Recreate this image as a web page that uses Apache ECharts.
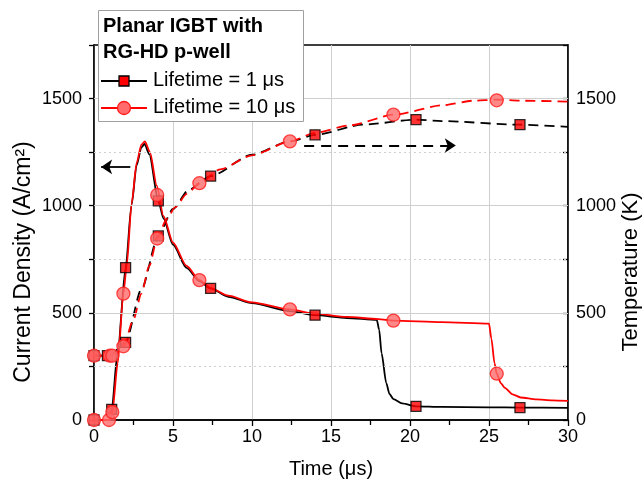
<!DOCTYPE html>
<html><head><meta charset="utf-8">
<script src="https://cdn.jsdelivr.net/npm/echarts@6/dist/echarts.min.js"></script>
<style>html,body{margin:0;padding:0;background:#fff}#c{width:643px;height:484px}</style>
</head><body><div id="c"></div>
<script>
// ---- data ----
const xTickStep = 5;
const yMajorGrid = [500, 1000, 1500];
const yMinorGrid = [250, 750, 1250];
const legendTitle = ['Planar IGBT with', 'RG-HD p-well'];
const seriesNames = ['Lifetime = 1 \u03bcs', 'Lifetime = 10 \u03bcs'];
const xTitle = 'Time (\u03bcs)';
const yLeftTitle = 'Current Density (A/cm\u00b2)';
const yRightTitle = 'Temperature (K)';

// current density (A/cm2), lifetime = 1 us  (black solid)
const cur1Line = [[0,0],[1.0,0],[1.12,50],[1.5,320],[2.0,711],[2.38,1005],[2.7,1190],[3.0,1272],[3.2,1288],[3.5,1240],[4.07,1023],[4.4,940],[5.0,818],[5.86,710],[6.67,648],[7.38,614],[8.5,575],[10,545],[12.4,508],[14,489],[16,476],[17.9,467],[18.05,420],[18.2,312],[18.5,172],[18.7,122],[18.95,97],[19.5,78],[20.38,64],[22,61],[25,59],[27,58],[30,57]];
// current density, lifetime = 10 us (red solid)
const cur10Line = [[0,0],[1.0,0],[1.16,37],[1.5,265],[1.86,590],[2.07,719],[2.38,1010],[2.7,1200],[3.0,1285],[3.22,1300],[3.54,1250],[3.97,1094],[4.39,953],[5.0,828],[5.86,719],[6.67,653],[7.4,614],[8.5,580],[10,549],[12.4,516],[14,496],[16,481],[18,471],[18.95,464],[22,457],[25.0,450],[25.15,380],[25.35,265],[25.49,216],[25.75,172],[26.0,150],[26.5,120],[27,105],[28,96],[29,92],[30,89]];
// temperature (K), lifetime = 1 us (black dashed)
const temp1Line = [[0,300],[0.85,300],[1.12,305],[1.5,330],[2.0,362],[3.0,610],[4.07,859],[5.0,985],[6.0,1075],[7.38,1138],[10,1238],[12.4,1300],[14,1331],[17,1378],[20.4,1402],[22,1395],[27,1378],[30,1368]];
// temperature (K), lifetime = 10 us (red dashed)
const temp10Line = [[0,300],[1.16,300],[1.5,318],[1.86,344],[2.5,470],[3.0,590],[3.5,720],[4.0,847],[4.6,937],[5.13,992],[5.87,1055],[6.67,1105],[8,1170],[10,1235],[12.4,1300],[14,1340],[16.2,1375],[19,1425],[22.1,1469],[24,1490],[25.5,1495],[27,1490],[30,1486]];

// markers
const cur1Marks = [[0,0],[1.12,50],[2.0,711],[4.07,1023],[7.38,614],[13.99,489],[20.38,64],[26.96,58]];
const cur10Marks = [[0,0],[0.95,0],[1.16,37],[1.86,590],[4.0,1050],[6.67,653],[12.4,516],[18.95,464],[25.49,216]];
const temp1Marks = [[0,300],[0.85,300],[2.0,362],[4.07,859],[7.38,1138],[13.99,1331],[20.38,1402],[26.96,1378]];
const temp10Marks = [[0,300],[1.0,300],[1.16,300],[1.86,344],[4.0,847],[6.67,1105],[12.4,1300],[18.95,1425],[25.49,1492]];

// annotation arrows
const arrowCurrent = [[2.3,1181],[0.45,1181]];
const arrowTemp = [[13.3,1281],[22.9,1281]];

// ---- chart ----
const FONT = "'Liberation Sans', Arial, sans-serif";
const chart = echarts.init(document.getElementById('c'), null, {renderer:'canvas'});

const sq = {symbol:'rect', symbolSize:10, itemStyle:{color:'#ff0000', borderColor:'#000', borderWidth:1.3}};
const ci = {symbol:'circle', symbolSize:13, itemStyle:{color:'#ff6b6b', borderColor:'#ff1a1a', borderWidth:1.3}};

function lineSeries(name, data, color, dashed, yIdx, z){
  return {name, type:'line', data, yAxisIndex:yIdx, showSymbol:false, symbol:'none',
    smooth:0.25, smoothMonotone:'x', z,
    lineStyle:{color, width:1.8, type: dashed ? [10,6] : 'solid'}, silent:true};
}
function markSeries(name, data, style, yIdx, z){
  return Object.assign({name, type:'scatter', data, yAxisIndex:yIdx, z, silent:true}, style);
}

const axisText = {color:'#000', fontSize:18, fontFamily:FONT};
const L = 94, R = 75, T = 45, B = 64;

const option = {
  animation:false,
  backgroundColor:'#fff',
  grid:{left:L, right:R, top:T, bottom:B, containLabel:false, outerBoundsMode:'none',
        show:true, borderColor:'#000', borderWidth:1.3, backgroundColor:'transparent'},
  xAxis:{type:'value', min:0, max:30, interval:xTickStep,
    name:xTitle, nameLocation:'middle', nameGap:39,
    nameTextStyle:{color:'#000', fontSize:20, fontFamily:FONT},
    axisLine:{lineStyle:{color:'#000', width:1.5}},
    axisTick:{length:6, lineStyle:{color:'#000', width:1.3}},
    minorTick:{show:true, splitNumber:2, length:5, lineStyle:{color:'#000', width:1.3}},
    axisLabel:Object.assign({margin:8}, axisText),
    splitLine:{show:true, lineStyle:{color:'#cfcfcf', width:1}}},
  yAxis:[
    {type:'value', min:0, max:1750, interval:250, position:'left',
     axisLine:{show:true, lineStyle:{color:'#000', width:1.5}},
     axisTick:{show:true, length:5, lineStyle:{color:'#000', width:1.3}},
     axisLabel:Object.assign({margin:12, formatter:v => (v % 500 === 0 ? String(v) : '')}, axisText),
     splitLine:{show:false}},
    {type:'value', min:0, max:1750, interval:250, position:'right',
     axisLine:{show:true, lineStyle:{color:'#000', width:1.5}},
     axisTick:{show:true, inside:true, length:5, lineStyle:{color:'#000', width:1.3}},
     axisLabel:Object.assign({margin:8, formatter:v => (v % 500 === 0 ? String(v) : '')}, axisText),
     splitLine:{show:false}}
  ],
  series:[
    {name:'grid', type:'line', data:[], yAxisIndex:0, z:1, silent:true,
     markLine:{silent:true, symbol:'none', label:{show:false}, animation:false,
       data: yMajorGrid.map(v => ({yAxis:v, lineStyle:{color:'#cfcfcf', width:1, type:'solid'}}))
         .concat(yMinorGrid.map(v => ({yAxis:v, lineStyle:{color:'#d0d0d0', width:1, type:[2,3]}})))}},
    {name:'arrowJ', type:'line', data:[], yAxisIndex:0, z:6, silent:true,
     markLine:{silent:true, symbol:['none','arrow'], symbolSize:11, label:{show:false}, animation:false,
       lineStyle:{color:'#000', width:1.8, type:'solid'},
       data:[[{coord:arrowCurrent[0]},{coord:arrowCurrent[1]}]]}},
    {name:'arrowT', type:'line', data:[], yAxisIndex:1, z:6, silent:true,
     markLine:{silent:true, symbol:['none','arrow'], symbolSize:11, label:{show:false}, animation:false,
       lineStyle:{color:'#000', width:1.8, type:[10,7]},
       data:[[{coord:arrowTemp[0]},{coord:arrowTemp[1]}]]}},
    lineSeries('T1', temp1Line, '#000', true, 1, 3),
    lineSeries('T10', temp10Line, '#ff0000', true, 1, 4),
    lineSeries(seriesNames[0], cur1Line, '#000', false, 0, 3),
    lineSeries(seriesNames[1], cur10Line, '#ff0000', false, 0, 4),
    markSeries('mT1', temp1Marks, sq, 1, 7),
    markSeries('mJ1', cur1Marks, sq, 0, 7),
    markSeries('mT10', temp10Marks, ci, 1, 8),
    markSeries('mJ10', cur10Marks, ci, 0, 8)
  ],
  graphic:[
    {type:'text', x:24, y:262, rotation:Math.PI/2, z:51,
     style:{text:yLeftTitle, font:"23px "+FONT, fill:'#000', align:'center', verticalAlign:'middle'}},
    {type:'text', x:631, y:272, rotation:Math.PI/2, z:51,
     style:{text:yRightTitle, font:"22px "+FONT, fill:'#000', align:'center', verticalAlign:'middle'}},
    {type:'rect', left:98, top:10, z:50, shape:{width:205, height:111},
     style:{fill:'#fff', stroke:'#a0a0a0', lineWidth:1}},
    {type:'text', left:103, top:16, z:51, style:{text:legendTitle[0], font:"bold 20px "+FONT, fill:'#000'}},
    {type:'text', left:103, top:42, z:51, style:{text:legendTitle[1], font:"bold 20px "+FONT, fill:'#000'}},
    {type:'line', z:51, shape:{x1:101, y1:81, x2:147, y2:81}, style:{stroke:'#000', lineWidth:1.8}},
    {type:'rect', z:52, shape:{x:119, y:76, width:10, height:10}, style:{fill:'#ff0000', stroke:'#000', lineWidth:1.3}},
    {type:'text', left:153, top:70, z:51, style:{text:seriesNames[0], font:"20px "+FONT, fill:'#000'}},
    {type:'line', z:51, shape:{x1:101, y1:108, x2:147, y2:108}, style:{stroke:'#ff0000', lineWidth:1.8}},
    {type:'circle', z:52, shape:{cx:124, cy:108, r:6.5}, style:{fill:'#ff6b6b', stroke:'#ff1a1a', lineWidth:1.3}},
    {type:'text', left:153, top:97, z:51, style:{text:seriesNames[1], font:"20px "+FONT, fill:'#000'}}
  ]
};
chart.setOption(option);
</script>
</body></html>
